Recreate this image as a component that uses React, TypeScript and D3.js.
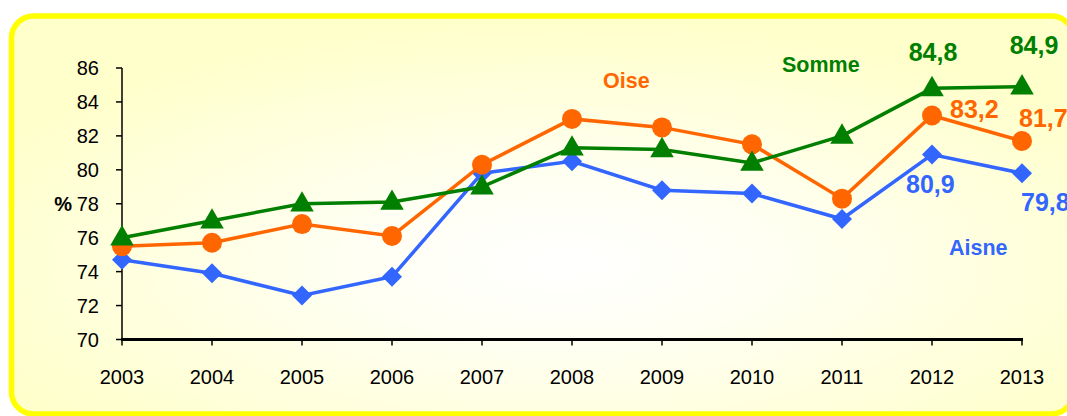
import React from "react";
import * as d3 from "d3";

const years = [2003, 2004, 2005, 2006, 2007, 2008, 2009, 2010, 2011, 2012, 2013];
const aisne = [74.7, 73.9, 72.6, 73.7, 79.8, 80.5, 78.8, 78.6, 77.1, 80.9, 79.8];
const oise = [75.5, 75.7, 76.8, 76.1, 80.3, 83.0, 82.5, 81.5, 78.3, 83.2, 81.7];
const somme = [76.0, 77.0, 78.0, 78.1, 79.0, 81.3, 81.2, 80.4, 82.0, 84.8, 84.9];
const yTicks = [70, 72, 74, 76, 78, 80, 82, 84, 86];

const W = 1067;
const H = 416;
const FONT = "'Liberation Sans', Arial, sans-serif";

const GREEN = "#007f00";
const ORANGE = "#ff6600";
const BLUE = "#3366ff";

export default function App() {
  const x = d3.scalePoint<number>().domain(years).range([122, 1022]);
  const y = d3.scaleLinear().domain([70, 86]).range([339.5, 68]);
  const line = d3
    .line<number>()
    .x((_, i) => x(years[i]) as number)
    .y((d) => y(d));

  const tri = d3.symbol().type(d3.symbolTriangle).size(240)();
  const dia = "M0,-10L10,0L0,10L-10,0Z";

  const fmt = (v: number) => v.toFixed(1).replace(".", ",");
  const last = years.length - 1;
  const prev = years.length - 2;

  return (
    <svg
      width={W}
      height={H}
      style={{ position: "absolute", left: 0, top: 0 }}
      fontFamily={FONT}
    >
      <defs>
        <radialGradient id="bg" cx="0.52" cy="0.62" r="0.6">
          <stop offset="0" stopColor="#ffffff" />
          <stop offset="0.35" stopColor="#fffff2" />
          <stop offset="1" stopColor="#ffffcc" />
        </radialGradient>
      </defs>
      <rect width={W} height={H} fill="#ffffff" />
      <rect
        x={11.5}
        y={16}
        width={1062}
        height={398}
        rx={22}
        ry={22}
        fill="url(#bg)"
        stroke="#ffff00"
        strokeWidth={5.5}
      />

      {/* y axis */}
      <line x1={122} x2={122} y1={y(86)} y2={y(70)} stroke="#000" strokeWidth={1.5} />
      {yTicks.map((t) => (
        <g key={t}>
          <line x1={116} x2={122} y1={y(t)} y2={y(t)} stroke="#000" strokeWidth={1.5} />
          <text x={99} y={y(t)} dy="0.35em" textAnchor="end" fontSize={20} fill="#000">
            {t}
          </text>
        </g>
      ))}
      <text x={72} y={y(78)} dy="0.35em" textAnchor="end" fontSize={20} fontWeight="bold" fill="#000">
        %
      </text>

      {/* x axis */}
      <line x1={121} x2={1023} y1={y(70)} y2={y(70)} stroke="#000" strokeWidth={3} />
      {years.map((yr) => (
        <g key={yr}>
          <line
            x1={x(yr) as number}
            x2={x(yr) as number}
            y1={y(70)}
            y2={y(70) + 6}
            stroke="#000"
            strokeWidth={1.5}
          />
          <text x={x(yr) as number} y={384} textAnchor="middle" fontSize={20} fill="#000">
            {yr}
          </text>
        </g>
      ))}

      {/* Aisne */}
      <path d={line(aisne) || ""} fill="none" stroke={BLUE} strokeWidth={3.5} />
      {aisne.map((v, i) => (
        <path key={"a" + i} d={dia} transform={`translate(${x(years[i])},${y(v)})`} fill={BLUE} />
      ))}

      {/* Oise */}
      <path d={line(oise) || ""} fill="none" stroke={ORANGE} strokeWidth={3.5} />
      {oise.map((v, i) => (
        <circle key={"o" + i} cx={x(years[i]) as number} cy={y(v)} r={10} fill={ORANGE} />
      ))}

      {/* Somme */}
      <path d={line(somme) || ""} fill="none" stroke={GREEN} strokeWidth={3.5} />
      {somme.map((v, i) => (
        <path key={"s" + i} d={tri || ""} transform={`translate(${x(years[i])},${y(v) + 1})`} fill={GREEN} />
      ))}

      {/* series labels */}
      <text x={603} y={88} fontSize={21.5} fontWeight="bold" fill={ORANGE}>Oise</text>
      <text x={782} y={72} fontSize={21.5} fontWeight="bold" fill={GREEN}>Somme</text>
      <text x={949} y={255} fontSize={21.5} fontWeight="bold" fill={BLUE}>Aisne</text>

      {/* value labels */}
      <text x={(x(years[prev]) as number) + 1} y={61} textAnchor="middle" fontSize={25} fontWeight="bold" fill={GREEN}>
        {fmt(somme[prev])}
      </text>
      <text x={(x(years[last]) as number) + 12} y={54} textAnchor="middle" fontSize={25} fontWeight="bold" fill={GREEN}>
        {fmt(somme[last])}
      </text>
      <text x={950} y={118} fontSize={25} fontWeight="bold" fill={ORANGE}>
        {fmt(oise[prev])}
      </text>
      <text x={1019} y={127} fontSize={25} fontWeight="bold" fill={ORANGE}>
        {fmt(oise[last])}
      </text>
      <text x={906} y={193} fontSize={25} fontWeight="bold" fill={BLUE}>
        {fmt(aisne[prev])}
      </text>
      <text x={1021} y={211} fontSize={25} fontWeight="bold" fill={BLUE}>
        {fmt(aisne[last])}
      </text>
    </svg>
  );
}
